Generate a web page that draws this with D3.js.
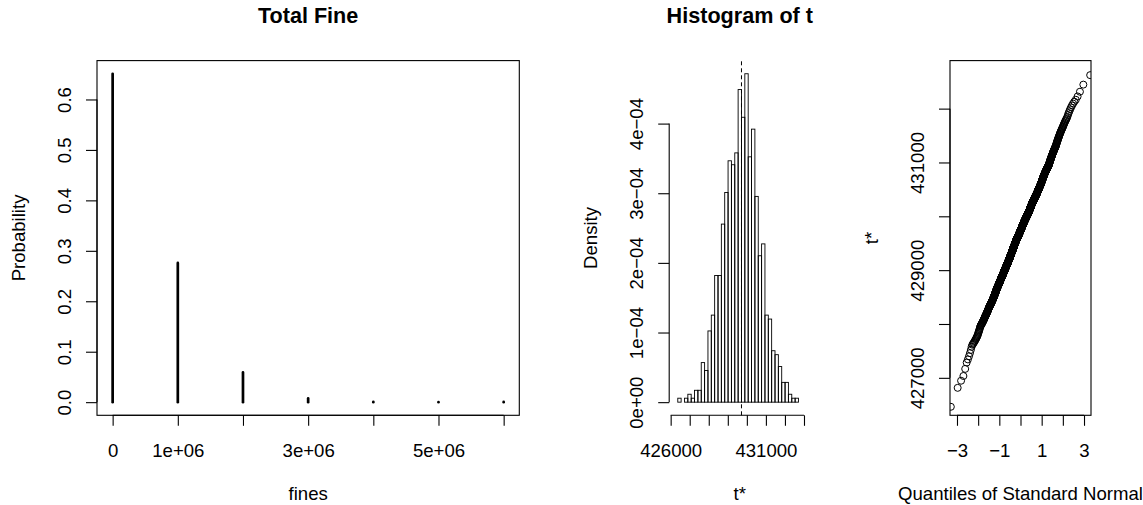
<!DOCTYPE html>
<html lang="en">
<head>
<meta charset="utf-8">
<script src="https://d3js.org/d3.v7.min.js"></script>
<style>
  body { margin: 0; background: #fff; }
  text { font-family: "Liberation Sans", Arial, Helvetica, sans-serif; fill: #000; }
</style>
<title>Total Fine / bootstrap</title>
</head>
<body>
<div id="chart"></div>
<script>
// panel 1: distribution of the total fine
var fines = [0, 1e6, 2e6, 3e6, 4e6, 5e6, 6e6];
var fineProb = [0.651, 0.276, 0.059, 0.0075, 0.0008, 0.0002, 0.0005];
var probTicks = [0, 0.1, 0.2, 0.3, 0.4, 0.5, 0.6];
var probLabels = ["0.0", "0.1", "0.2", "0.3", "0.4", "0.5", "0.6"];
var fineTickLabels = ["0", "1e+06", "", "3e+06", "", "5e+06", ""];

// panel 2: histogram of the bootstrap replicates t (counts per bin)
var t0 = 429718;
var firstBreak = 426198;
var binWidth = 176;
var binCounts = [0, 1, 0, 1, 2, 1, 3, 3, 10, 8, 18, 22, 32, 32, 45, 53, 61, 60, 63, 79,
                 72, 83, 62, 69, 52, 37, 40, 22, 21, 13, 12, 9, 5, 5, 2, 1, 1, 0, 0];
var densTicks = [0, 1e-4, 2e-4, 3e-4, 4e-4];
var densLabels = ["0e+00", "1e\u221204", "2e\u221204", "3e\u221204", "4e\u221204"];
var tTicks = [426000, 427000, 428000, 429000, 430000, 431000, 432000, 433000];
var tTickLabels = ["426000", "", "", "", "", "431000", "", ""];

// panel 3: normal QQ plot of t
var qqXLim = [-3.33, 3.33];
var qqYLim = [426304, 432892];
var zTicks = [-3, -2, -1, 0, 1, 2, 3];
var zTickLabels = ["\u22123", "", "\u22121", "", "1", "", "3"];
var qqYTicks = [427000, 428000, 429000, 430000, 431000, 432000];
var qqYLabels = ["427000", "", "429000", "", "431000", ""];

var W = 1143, H = 505;
var plotTop = 60.6, plotBottom = 415.3;
var fontSize = 18.6;

var svg = d3.select("#chart")
    .append("svg")
        .attr("width", W)
        .attr("height", H);

function rExtend(lo, hi) {
    var r = hi - lo;
    return [lo - 0.04 * r, hi + 0.04 * r];
}

function qnorm(p) {
    var a = [-3.969683028665376e+01, 2.209460984245205e+02, -2.759285104469687e+02, 1.383577518672690e+02, -3.066479806614716e+01, 2.506628277459239e+00];
    var b = [-5.447609879822406e+01, 1.615858368580409e+02, -1.556989798598866e+02, 6.680131188771972e+01, -1.328068155288572e+01];
    var c = [-7.784894002430293e-03, -3.223964580411365e-01, -2.400758277161838e+00, -2.549732539343734e+00, 4.374664141464968e+00, 2.938163982698783e+00];
    var d = [7.784695709041462e-03, 3.224671290700398e-01, 2.445134137142996e+00, 3.754408661907416e+00];
    var plow = 0.02425, q, r;
    if (p < plow) {
        q = Math.sqrt(-2 * Math.log(p));
        return (((((c[0]*q+c[1])*q+c[2])*q+c[3])*q+c[4])*q+c[5]) / ((((d[0]*q+d[1])*q+d[2])*q+d[3])*q+1);
    }
    if (p > 1 - plow) {
        q = Math.sqrt(-2 * Math.log(1 - p));
        return -(((((c[0]*q+c[1])*q+c[2])*q+c[3])*q+c[4])*q+c[5]) / ((((d[0]*q+d[1])*q+d[2])*q+d[3])*q+1);
    }
    q = p - 0.5; r = q * q;
    return (((((a[0]*r+a[1])*r+a[2])*r+a[3])*r+a[4])*r+a[5])*q / (((((b[0]*r+b[1])*r+b[2])*r+b[3])*r+b[4])*r+1);
}

// R style axes: line only between first and last tick, labels placed like base graphics
function bottomAxis(scale, ticks, labels) {
    var g = svg.append("g")
        .attr("transform", "translate(0," + plotBottom + ")")
        .call(d3.axisBottom(scale).tickValues(ticks)
            .tickFormat(function(d, i) { return labels[i]; })
            .tickSize(10.5).tickSizeOuter(0));
    g.select(".domain").remove();
    g.append("line")
        .attr("x1", scale(ticks[0])).attr("x2", scale(ticks[ticks.length - 1]))
        .attr("stroke", "#000");
    g.selectAll("line").attr("stroke", "#000").attr("stroke-width", 1.1);
    g.selectAll("text")
        .attr("y", 41.7).attr("dy", null)
        .attr("font-size", fontSize)
        .attr("font-family", null)
        .attr("fill", "#000");
    return g;
}

function leftAxis(x0, scale, ticks, labels) {
    var g = svg.append("g")
        .attr("transform", "translate(" + x0 + ",0)")
        .call(d3.axisLeft(scale).tickValues(ticks)
            .tickFormat(function(d, i) { return labels[i]; })
            .tickSize(11).tickSizeOuter(0));
    g.select(".domain").remove();
    g.append("line")
        .attr("y1", scale(ticks[0])).attr("y2", scale(ticks[ticks.length - 1]))
        .attr("stroke", "#000");
    g.selectAll("line").attr("stroke", "#000").attr("stroke-width", 1.1);
    g.selectAll("text")
        .attr("transform", "rotate(-90)")
        .attr("x", 0).attr("y", -26).attr("dy", null)
        .attr("text-anchor", "middle")
        .attr("font-size", fontSize)
        .attr("font-family", null)
        .attr("fill", "#000");
    return g;
}

function titles(x0, x1, main, xlab, ylab) {
    var cx = (x0 + x1) / 2;
    if (main) {
        svg.append("text")
            .attr("x", cx).attr("y", 23)
            .attr("text-anchor", "middle")
            .attr("font-size", 21.6)
            .attr("font-weight", "bold")
            .text(main);
    }
    svg.append("text")
        .attr("x", cx).attr("y", 500)
        .attr("text-anchor", "middle")
        .attr("font-size", fontSize)
        .text(xlab);
    svg.append("text")
        .attr("transform", "translate(" + (x0 - 72) + "," + ((plotTop + plotBottom) / 2) + ") rotate(-90)")
        .attr("text-anchor", "middle")
        .attr("font-size", fontSize)
        .text(ylab);
}

function box(x0, x1) {
    svg.append("rect")
        .attr("x", x0).attr("y", plotTop)
        .attr("width", x1 - x0).attr("height", plotBottom - plotTop)
        .attr("fill", "none")
        .attr("stroke", "#000")
        .attr("stroke-width", 1.1);
}

// ---- panel 1
var p1 = [97, 519.3];
var x1 = d3.scaleLinear().domain(rExtend(0, d3.max(fines))).range(p1);
var y1 = d3.scaleLinear().domain(rExtend(0, d3.max(fineProb))).range([plotBottom, plotTop]);

svg.append("g").selectAll("line")
    .data(fines)
    .enter()
    .append("line")
        .attr("x1", function(d) { return x1(d); })
        .attr("x2", function(d) { return x1(d); })
        .attr("y1", y1(0))
        .attr("y2", function(d, i) { return y1(fineProb[i]); })
        .attr("stroke", "#000")
        .attr("stroke-width", 2.7)
        .attr("stroke-linecap", "round");

box(p1[0], p1[1]);
bottomAxis(x1, fines, fineTickLabels);
leftAxis(p1[0], y1, probTicks, probLabels);
titles(p1[0], p1[1], "Total Fine", "fines", "Probability");

// ---- panel 2
var nBoot = d3.sum(binCounts);
var breaks = d3.range(binCounts.length + 1).map(function(i) { return firstBreak + i * binWidth; });
var dens = binCounts.map(function(c) { return c / (nBoot * binWidth); });

var p2 = [669.2, 810.4];
var x2 = d3.scaleLinear().domain(rExtend(breaks[0], breaks[breaks.length - 1])).range(p2);
var y2 = d3.scaleLinear().domain(rExtend(0, d3.max(dens))).range([plotBottom, plotTop]);

svg.append("g").selectAll("rect")
    .data(dens)
    .enter()
    .append("rect")
        .attr("x", function(d, i) { return x2(breaks[i]); })
        .attr("width", function(d, i) { return x2(breaks[i + 1]) - x2(breaks[i]); })
        .attr("y", function(d) { return y2(d); })
        .attr("height", function(d) { return y2(0) - y2(d); })
        .attr("fill", "none")
        .attr("stroke", "#000")
        .attr("stroke-width", 0.9);

svg.append("line")
    .attr("x1", x2(t0)).attr("x2", x2(t0))
    .attr("y1", plotBottom).attr("y2", plotTop)
    .attr("stroke", "#000")
    .attr("stroke-width", 1)
    .attr("stroke-dasharray", "4,3");

bottomAxis(x2, tTicks, tTickLabels);
leftAxis(p2[0], y2, densTicks, densLabels);
titles(p2[0], p2[1], "Histogram of t", "t*", "Density");

// ---- panel 3 (sorted replicates taken from the histogram bins)
var tSorted = [];
binCounts.forEach(function(c, i) {
    for (var k = 0; k < c; k++) tSorted.push(breaks[i] + (k + 0.5) / c * binWidth);
});
var qq = tSorted.map(function(v, i) {
    return { z: qnorm((i + 0.5) / tSorted.length), t: v };
});

var p3 = [950, 1091];
var x3 = d3.scaleLinear().domain(qqXLim).range(p3);
var y3 = d3.scaleLinear().domain(qqYLim).range([plotBottom, plotTop]);

svg.append("clipPath").attr("id", "clip3")
    .append("rect")
        .attr("x", p3[0]).attr("y", plotTop)
        .attr("width", p3[1] - p3[0]).attr("height", plotBottom - plotTop);

svg.append("g")
    .attr("clip-path", "url(#clip3)")
    .selectAll("circle")
    .data(qq)
    .enter()
    .append("circle")
        .attr("cx", function(d) { return x3(d.z); })
        .attr("cy", function(d) { return y3(d.t); })
        .attr("r", 3.5)
        .attr("fill", "none")
        .attr("stroke", "#000")
        .attr("stroke-width", 1);

box(p3[0], p3[1]);
bottomAxis(x3, zTicks, zTickLabels);
leftAxis(p3[0], y3, qqYTicks, qqYLabels);
titles(p3[0], p3[1], null, "Quantiles of Standard Normal", "t*");
</script>
</body>
</html>
